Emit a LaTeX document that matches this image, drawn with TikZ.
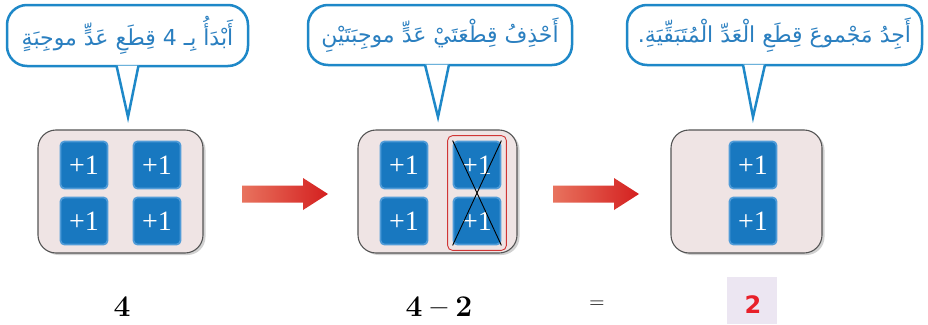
\documentclass[tikz,border=0pt]{standalone}
\usepackage{fontspec}
\usetikzlibrary{fit}
\TeXXeTstate=1
\newfontfamily\arabicfont[Script=Arabic]{DejaVu Sans}
\newfontfamily\tilefont{Liberation Serif}
\newfontfamily\boldsans{DejaVu Sans}
\definecolor{bubbleblue}{HTML}{1E88C8}
\definecolor{textblue}{HTML}{2A7FC0}
\definecolor{boxfill}{HTML}{EFE4E4}
\definecolor{boxline}{HTML}{555555}
\definecolor{tilefill}{HTML}{1878C0}
\definecolor{tileedge}{HTML}{4F9BD8}
\definecolor{crossred}{HTML}{D03535}
\definecolor{arrowlight}{HTML}{E8735E}
\definecolor{arrowdark}{HTML}{D41F1F}
\definecolor{answerbg}{HTML}{ECE6F2}
\definecolor{answerred}{HTML}{E8202A}
\tikzset{
  bubble/.style={draw=bubbleblue, line width=2.5pt, fill=white, rectangle, rounded corners=20pt,
    text=textblue, font=\arabicfont\fontsize{22}{26}\selectfont, inner sep=0pt},
  tail/.style={draw=bubbleblue, line width=2.5pt, fill=white, line join=miter},
  panel/.style={draw=boxline, line width=1.1pt, fill=boxfill, rectangle, rounded corners=18pt,
    minimum height=123pt, inner sep=0pt},
  panelshadow/.style={fill=black, opacity=0.18, rectangle, rounded corners=18pt},
  tile/.style={draw=tileedge, line width=1.8pt, fill=tilefill, rectangle, rounded corners=4pt,
    minimum size=47pt, inner sep=0pt, text=white, font=\tilefont\fontsize{28}{30}\selectfont},
  redbox/.style={draw=crossred, line width=0.9pt, rounded corners=5pt},
  crossline/.style={draw=black, line width=0.9pt},
  eqtext/.style={font=\bfseries\fontsize{30}{34}\selectfont, text=black, inner sep=0pt},
  bigarrow/.style={left color=arrowlight, right color=arrowdark},
}
\begin{document}
\begin{tikzpicture}[x=1pt,y=-1pt]
\useasboundingbox (0,0) rectangle (928,324);
\fill[white] (0,0) rectangle (928,324);

% bubbles
\node[bubble, minimum width=241pt, minimum height=61pt] (b1) at (127.5,35.5)
  {\beginR أَبْدَأُ بِـ 4 قِطَعِ عَدٍّ موجِبَةٍ\endR};
\node[bubble, minimum width=264pt, minimum height=60pt] (b2) at (440,35)
  {\beginR أَحْذِفُ قِطْعَتَيْ عَدٍّ موجِبَتَيْنِ\endR};
\node[bubble, minimum width=295pt, minimum height=60pt] (b3) at (774.5,35)
  {\beginR أَجِدُ مَجْموعَ قِطَعِ الْعَدِّ الْمُتَبَقِّيَةِ.\endR};
\coordinate (t1) at (128,117);
\coordinate (t2) at (438,117);
\coordinate (t3) at (753,117);
\path[tail] ([xshift=-11pt,yshift=1.6pt]b1.south) -- (t1) -- ([xshift=11pt,yshift=1.6pt]b1.south);
\path[tail] ([xshift=-13pt,yshift=1.6pt]b2.south -| t2) -- (t2) -- ([xshift=11pt,yshift=1.6pt]b2.south -| t2);
\path[tail] ([xshift=-10pt,yshift=1.6pt]b3.south -| t3) -- (t3) -- ([xshift=12pt,yshift=1.6pt]b3.south -| t3);

% panels with shadows
\node[panelshadow, minimum width=165pt, minimum height=123pt] at (123,193.5) {};
\node[panel, minimum width=165pt] (p1) at (120.5,191.5) {};
\node[panelshadow, minimum width=159pt, minimum height=123pt] at (440,193.5) {};
\node[panel, minimum width=159pt] (p2) at (437.5,191.5) {};
\node[panelshadow, minimum width=151pt, minimum height=123pt] at (749,193.5) {};
\node[panel, minimum width=151pt] (p3) at (746.5,191.5) {};

% tiles
\node[tile] (a1) at (84,165) {+1};
\node[tile] (a2) at (157,165) {+1};
\node[tile] (a3) at (84,221) {+1};
\node[tile] (a4) at (157,221) {+1};
\node[tile] (c1) at (404,165) {+1};
\node[tile] (c2) at (477,165) {+1};
\node[tile] (c3) at (404,221) {+1};
\node[tile] (c4) at (477,221) {+1};
\node[tile] (d1) at (753,165) {+1};
\node[tile] (d2) at (753,221) {+1};

% crossed out pair
\node[redbox, fit=(c2)(c4), inner sep=5pt] (rb) {};
\draw[crossline] (c2.north west) -- (c4.south east);
\draw[crossline] (c2.north east) -- (c4.south west);

% arrows
\shade[bigarrow] (242,185.5) -- (303,185.5) -- (303,178) -- (328,194) -- (303,210) -- (303,202.5) -- (242,202.5) -- cycle;
\shade[bigarrow] (553,185.5) -- (614,185.5) -- (614,178) -- (639,194) -- (614,210) -- (614,202.5) -- (553,202.5) -- cycle;

% equation
\node[eqtext] (e1) at (122,307) {4};
\node[eqtext] (e2) at (439,307) {4\hspace{8pt}--\hspace{8pt}2};
\node[eqtext, font=\fontsize{21}{24}\selectfont] (e3) at (597,305) {=};
\fill[answerbg] (727,277) rectangle (777,324);
\node[text=answerred, font=\boldsans\bfseries\fontsize{24}{28}\selectfont, inner sep=0pt] (e4) at (753,305) {2};
\end{tikzpicture}
\end{document}
